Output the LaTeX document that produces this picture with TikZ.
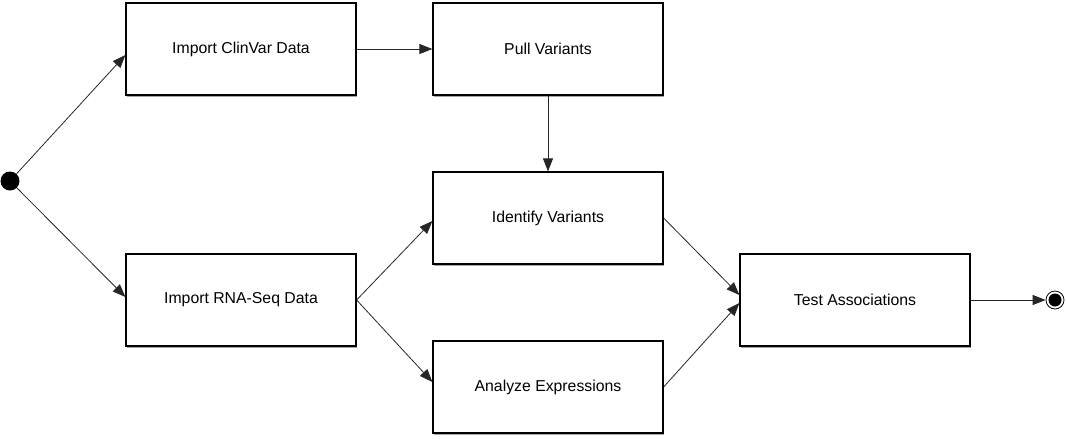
\documentclass[tikz,border=0pt]{standalone}
\usepackage{fontspec}
\setmainfont{Liberation Sans}
\usepackage{tikz}
\usetikzlibrary{calc,arrows.meta,shadows}

\begin{document}
\begin{tikzpicture}[x=1pt,y=-1pt,
        stepbox/.style={draw=black,line width=1.2pt,fill=white,minimum width=230pt,minimum height=92pt,
            drop shadow={shadow xshift=1.2pt,shadow yshift=-1.8pt,opacity=0.35,fill=black}},
        flow/.style={draw=black!85,line width=0.8pt,-{Triangle[length=13pt,width=10pt]}}]
        % Page size:
        % The picture is exactly as large as the reference.
        \useasboundingbox (0,0) rectangle (1066,440);

        \begin{scope}[font=\fontsize{15.8}{19}\selectfont]
            % Steps:
            % Every box is placed at the centre it has in the reference.
            \node [stepbox] (clinvar)  at (241,49)  {Import ClinVar Data};
            \node [stepbox] (pull)     at (548,49)  {Pull Variants};
            \node [stepbox] (identify) at (548,218) {Identify Variants};
            \node [stepbox] (rnaseq)   at (241,300) {Import RNA-Seq Data};
            \node [stepbox] (analyze)  at (548,387) {Analyze Expressions};
            \node [stepbox] (test)     at (855,300) {Test Associations};
        \end{scope}

        % Start and end:
        \node [circle,fill=black,inner sep=0pt,minimum size=19pt] (start) at (10,181) {};
        \node [circle,draw=black,line width=0.8pt,fill=white,inner sep=0pt,minimum size=18pt] (stop) at (1055,300) {};
        \fill [black] (stop.center) circle (6.5pt);

        % Connectors:
        \draw [flow] (start) -- ([yshift=-6pt]clinvar.west);
        \draw [flow] (start) -- ([yshift=3pt]rnaseq.west);
        \draw [flow] (clinvar.east) -- (pull.west);
        \draw [flow] (pull.south) -- (identify.north);
        \foreach \to/\dy in {identify/-3pt,analyze/5pt}{%
            \draw [flow] (rnaseq.east) -- ([yshift=\dy]\to.west);
        }
        \draw [flow] (identify.east) -- ([yshift=5pt]test.west);
        \draw [flow] (analyze.east) -- ([yshift=-3pt]test.west);
        \draw [flow] (test.east) -- (stop.west);
\end{tikzpicture}
\end{document}
